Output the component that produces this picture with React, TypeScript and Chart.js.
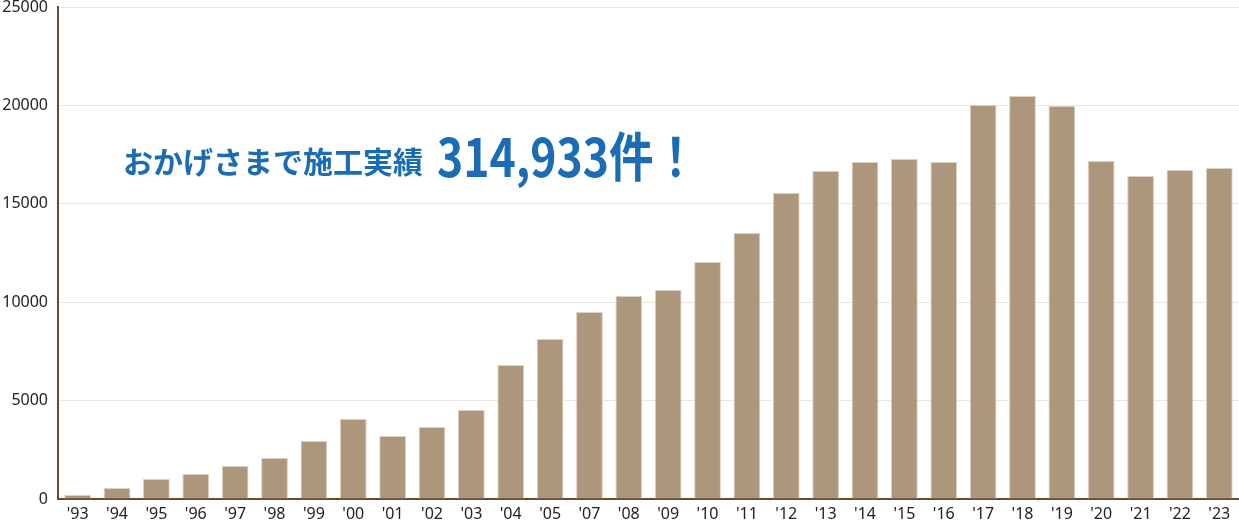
import React, { useEffect, useRef } from "react";
import { Chart, registerables } from "chart.js";

Chart.register(...registerables);

const years = [
  "'93", "'94", "'95", "'96", "'97", "'98", "'99", "'00", "'01", "'02",
  "'03", "'04", "'05", "'07", "'08", "'09", "'10", "'11", "'12", "'13",
  "'14", "'15", "'16", "'17", "'18", "'19", "'20", "'21", "'22", "'23",
];

const installs = [
  200, 560, 1020, 1270, 1680, 2080, 2950, 4070, 3200, 3660,
  4520, 6810, 8130, 9500, 10310, 10620, 12040, 13520, 15550, 16670,
  17120, 17280, 17120, 20020, 20480, 19970, 17170, 16410, 16720, 16820,
];

const yMin = 0;
const yMax = 25000;
const yStep = 5000;

const headline = "おかげさまで施工実績";
const totalText = "314,933件！";

const titlePlugin = {
  id: "headline",
  afterDraw(chart: any) {
    const ctx = chart.ctx;
    ctx.save();
    ctx.fillStyle = "#1a6db5";
    ctx.textAlign = "left";
    ctx.textBaseline = "middle";
    ctx.font = "bold 30px 'Noto Sans CJK JP'";
    ctx.fillText(headline, 123, 162);
    ctx.translate(437, 157);
    ctx.scale(0.84, 1);
    ctx.font = "bold 53px 'Noto Sans CJK JP'";
    ctx.fillText(totalText, 0, 0);
    ctx.restore();
  },
};

export default function App() {
  const ref = useRef<HTMLCanvasElement>(null);

  useEffect(() => {
    document.body.style.margin = "0";
    const tickFont = { family: "'Noto Sans', sans-serif", size: 16 };
    const chart = new Chart(ref.current as HTMLCanvasElement, {
      type: "bar",
      data: {
        labels: years,
        datasets: [
          {
            data: installs,
            backgroundColor: "#ad977c",
            borderColor: "#dcd0c2",
            borderWidth: 1,
            barPercentage: 0.68,
            categoryPercentage: 1,
          },
        ],
      },
      options: {
        animation: false,
        responsive: true,
        maintainAspectRatio: false,
        layout: { padding: { top: 7, right: 0, bottom: 0, left: 0 } },
        plugins: {
          legend: { display: false },
          tooltip: { enabled: false },
        },
        scales: {
          x: {
            grid: { display: false, drawTicks: false },
            border: { color: "#6b4a2f", width: 2 },
            ticks: {
              color: "#222",
              font: tickFont,
              padding: 6,
              maxRotation: 0,
              autoSkip: false,
            },
            afterFit: (scale: any) => {
              scale.height = 22;
            },
          },
          y: {
            min: yMin,
            max: yMax,
            grid: { color: "#ede7e1", drawTicks: false, lineWidth: 1 },
            border: { color: "#6b4a2f", width: 2 },
            ticks: {
              stepSize: yStep,
              color: "#222",
              font: tickFont,
              padding: 10,
              callback: (v: any) => String(v),
            },
            afterFit: (scale: any) => {
              scale.width = 58;
              scale.paddingTop = 0;
              scale.paddingBottom = 0;
            },
          },
        },
      },
      plugins: [titlePlugin],
    });
    return () => chart.destroy();
  }, []);

  return (
    <div style={{ position: "absolute", left: 0, top: 0, width: 1239, height: 521 }}>
      <canvas ref={ref} />
    </div>
  );
}
